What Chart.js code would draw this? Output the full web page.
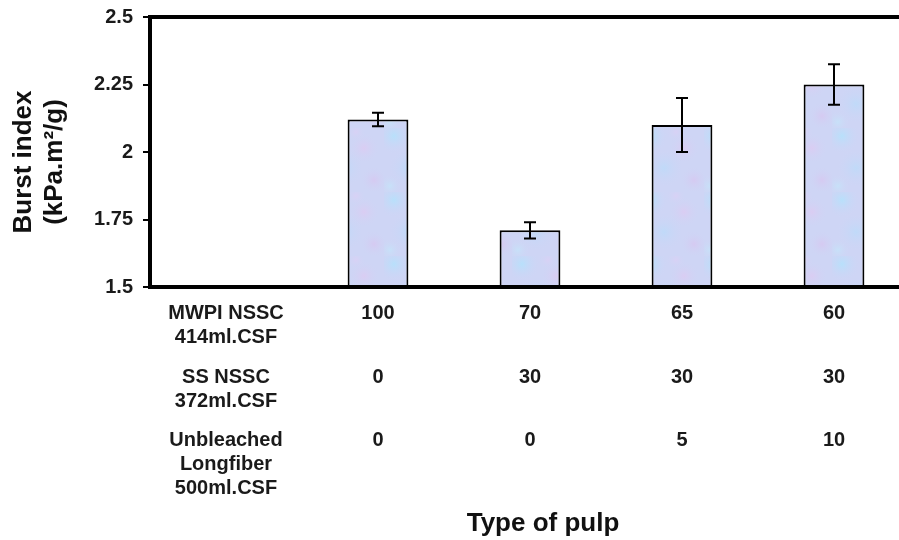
<!DOCTYPE html>
<html>
<head>
<meta charset="utf-8">
<script src="https://cdn.jsdelivr.net/npm/chart.js@4/dist/chart.umd.min.js"></script>
<style>
  html, body { margin: 0; padding: 0; background: #fff; overflow: hidden; }
  #wrap { width: 899px; height: 540px; overflow: hidden; }
</style>
</head>
<body>
<div id="wrap"><canvas id="burstChart" width="910" height="540"></canvas></div>
<script>
// first slot is left empty, it holds the row names of the table below the axis
const categories = ["", "A", "B", "C", "D"];
const burstIndex = [null, 2.12, 1.71, 2.10, 2.25];
const burstError = [null, 0.025, 0.03, 0.10, 0.075];
const yTicks = [1.5, 1.75, 2, 2.25, 2.5];

// composition table (percent of each pulp)
const rowNames = [
  ["MWPI NSSC", "414ml.CSF"],
  ["SS NSSC", "372ml.CSF"],
  ["Unbleached", "Longfiber", "500ml.CSF"]
];
const mwpiNssc = [100, 70, 65, 60];
const ssNssc = [0, 30, 30, 30];
const longfiber = [0, 0, 5, 10];
const tableRows = [mwpiNssc, ssNssc, longfiber];

const FONT = "'Liberation Sans', Arial, sans-serif";

// pale blue / lilac mottled fill like the original bars
function makeTexture() {
  const c = document.createElement("canvas");
  c.width = 64; c.height = 64;
  const g = c.getContext("2d");
  g.fillStyle = "rgb(206, 213, 245)";
  g.fillRect(0, 0, 64, 64);
  const blobs = [
    [10, 8, 18, "rgba(180, 226, 252, 0.85)"],
    [44, 20, 16, "rgba(222, 202, 242, 0.75)"],
    [24, 40, 20, "rgba(186, 220, 250, 0.7)"],
    [54, 52, 14, "rgba(216, 198, 240, 0.75)"],
    [6, 58, 12, "rgba(196, 230, 250, 0.7)"],
    [36, 4, 10, "rgba(220, 208, 245, 0.7)"]
  ];
  blobs.forEach(([x, y, r, col]) => {
    const rg = g.createRadialGradient(x, y, 0, x, y, r);
    rg.addColorStop(0, col);
    rg.addColorStop(1, "rgba(206, 213, 245, 0)");
    g.fillStyle = rg;
    g.fillRect(0, 0, 64, 64);
  });
  return g.createPattern(c, "repeat");
}

// frame, error bars, table and axis titles
const extrasPlugin = {
  id: "extras",
  afterDatasetsDraw(chart) {
    const ctx = chart.ctx;
    const x = chart.scales.x;
    const y = chart.scales.y;
    const area = chart.chartArea;

    ctx.save();
    // error bars
    ctx.strokeStyle = "#000";
    ctx.lineWidth = 2;
    chart.getDatasetMeta(0).data.forEach((bar, i) => {
      if (burstIndex[i] == null) return;
      const top = y.getPixelForValue(burstIndex[i] + burstError[i]);
      const bot = y.getPixelForValue(burstIndex[i] - burstError[i]);
      ctx.beginPath();
      ctx.moveTo(bar.x, top); ctx.lineTo(bar.x, bot);
      ctx.moveTo(bar.x - 6, top); ctx.lineTo(bar.x + 6, top);
      ctx.moveTo(bar.x - 6, bot); ctx.lineTo(bar.x + 6, bot);
      ctx.stroke();
    });

    // frame
    ctx.lineWidth = 4;
    ctx.beginPath();
    ctx.moveTo(area.right + 2, area.top);
    ctx.lineTo(area.left, area.top);
    ctx.lineTo(area.left, area.bottom);
    ctx.lineTo(area.right + 2, area.bottom);
    ctx.stroke();

    // table under the axis
    ctx.fillStyle = "#1a1a1a";
    ctx.font = "bold 20px " + FONT;
    ctx.textAlign = "center";
    ctx.textBaseline = "middle";
    const rowTop = [313, 377, 440];
    const lineGap = 24;
    rowNames.forEach((lines, r) => {
      lines.forEach((t, k) => {
        ctx.fillText(t, x.getPixelForValue(0), rowTop[r] + k * lineGap);
      });
      tableRows[r].forEach((v, i) => {
        ctx.fillText(String(v), x.getPixelForValue(i + 1), rowTop[r]);
      });
    });

    // axis titles
    ctx.fillStyle = "#111";
    ctx.font = "bold 26px " + FONT;
    ctx.fillText("Type of pulp", 543, 524);

    ctx.translate(0, 162);
    ctx.rotate(-Math.PI / 2);
    ctx.fillText("Burst index", 0, 24);
    ctx.fillText("(kPa.m\u00B2/g)", 0, 55);
    ctx.restore();
  }
};

const ctx = document.getElementById("burstChart").getContext("2d");
const burstChart = new Chart(ctx, {
  type: "bar",
  data: {
    labels: categories,
    datasets: [
      {
        label: "Burst index",
        data: burstIndex,
        backgroundColor: makeTexture(),
        borderColor: "#000",
        borderWidth: 2,
        borderSkipped: false,
        barPercentage: 0.4,
        categoryPercentage: 1.0
      }
    ]
  },
  options: {
    responsive: false,
    animation: false,
    layout: { padding: { top: 17, right: 0, bottom: 253, left: 0 } },
    plugins: {
      legend: { display: false },
      tooltip: { enabled: false }
    },
    scales: {
      x: {
        display: false
      },
      y: {
        min: 1.5,
        max: 2.5,
        afterFit: (scale) => {
          scale.width = 150;
          scale.paddingTop = 0;
          scale.paddingBottom = 0;
        },
        afterBuildTicks: (scale) => { scale.ticks = yTicks.map(v => ({ value: v })); },
        border: { display: false },
        grid: {
          drawOnChartArea: false,
          drawTicks: true,
          tickLength: 7,
          color: "#000",
          lineWidth: 2
        },
        ticks: {
          padding: 10,
          color: "#1a1a1a",
          font: { family: FONT, size: 20, weight: "bold" },
          callback: (value) => String(Number(value.toFixed(2)))
        }
      }
    }
  },
  plugins: [extrasPlugin]
});
</script>
</body>
</html>
